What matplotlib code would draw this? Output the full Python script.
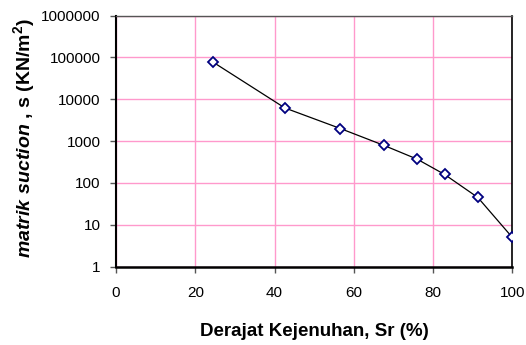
import matplotlib
matplotlib.use('Agg')
import matplotlib.pyplot as plt
from matplotlib.ticker import FixedLocator, FixedFormatter

# -- data --------------------------------------------
sr      = [24.4, 42.6, 56.6, 67.6, 76.0, 82.9, 91.3, 100.0]
suction = [78000, 6200, 2000, 790, 370, 160, 45, 5]

x_ticks  = [0, 20, 40, 60, 80, 100]
y_ticks  = [1, 10, 100, 1000, 10000, 100000, 1000000]
y_labels = ['1', '10', '100', '1000', '10000', '100000', '1000000']

plt.rcParams['font.family'] = ['Liberation Sans', 'DejaVu Sans']
plt.rcParams['mathtext.fontset'] = 'custom'
plt.rcParams['mathtext.bfit'] = 'Liberation Sans:italic:bold'
plt.rcParams['mathtext.bf'] = 'Liberation Sans:bold'
plt.rcParams['mathtext.rm'] = 'Liberation Sans'

grid_col = '#ff99cc'

# -- plotting ----------------------------------------
fig = plt.figure(figsize=(5.26, 3.45), dpi=100)
ax = fig.add_axes([0.2205, 0.227, 0.7535, 0.728])

ax.plot(sr, suction, color='black', lw=0.9, marker='D', ms=5.5,
        mfc='white', mec='#000080', mew=1.3, zorder=3)

ax.set_yscale('log')
ax.set_xlim(0, 100)
ax.set_ylim(1, 1000000)
ax.xaxis.set_major_locator(FixedLocator(x_ticks))
ax.yaxis.set_major_locator(FixedLocator(y_ticks))
ax.yaxis.set_major_formatter(FixedFormatter(y_labels))
ax.yaxis.set_minor_locator(FixedLocator([]))
ax.tick_params(labelsize=11, length=4, width=1, color='#555555')
ax.tick_params(axis='y', pad=7)
ax.tick_params(axis='x', pad=10)

ax.grid(True, color=grid_col, lw=1.0)
ax.set_axisbelow(True)

ax.spines['left'].set_linewidth(1.5)
ax.spines['bottom'].set_linewidth(1.8)
ax.spines['right'].set_linewidth(1.2)
ax.spines['top'].set_linewidth(1.0)
ax.spines['top'].set_color('#555555')

# axis titles placed where the reference has them
fig.text(314 / 526, 1 - 331 / 345, 'Derajat Kejenuhan, Sr (%)',
         fontsize=13.5, fontweight='bold', ha='center', va='center')
fig.text(25 / 526, 1 - 138 / 345,
         r'$\mathbfit{matrik\ suction}$ , s (KN/m$^\mathbf{2}$)',
         fontsize=14, fontweight='bold', rotation=90, ha='center', va='center')

fig.savefig('out.png', dpi=100)
